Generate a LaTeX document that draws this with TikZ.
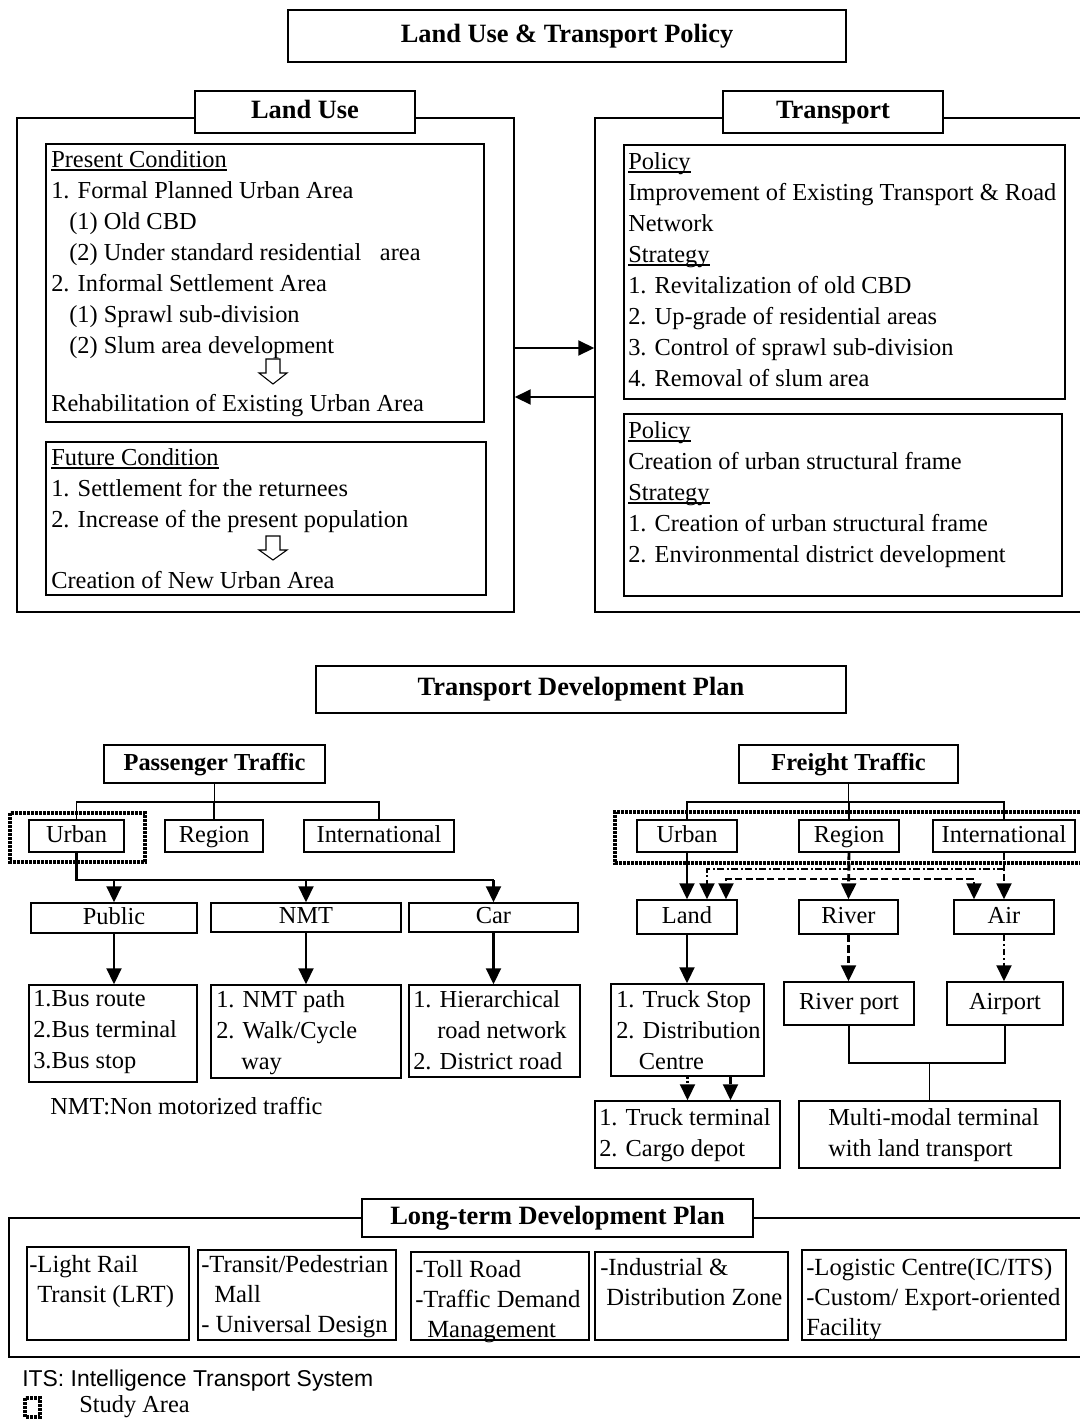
\documentclass[tikz,border=0pt]{standalone}
\usepackage{fontspec}
\setmainfont{Liberation Serif}
\newfontfamily\itsfont{Liberation Sans}
\usetikzlibrary{arrows.meta}
\newcommand\mainsz{\fontsize{18.3pt}{23.25pt}\selectfont}
\newcommand\ttlsz{\fontsize{19.8pt}{24pt}\selectfont\bfseries}
\newcommand\subttl{\fontsize{18.3pt}{23pt}\selectfont\bfseries}
\newcommand\ltsz{\fontsize{18.5pt}{22.5pt}\selectfont}
\newcommand\ulin[1]{\setbox0\hbox{#1}\rlap{\vrule height -1.6pt depth 2.5pt width \wd0}\box0}
% box node from pixel corners: name, x1, y1, x2, y2, options, text
\newcommand\bxnode[7]{\node[box,#6,minimum width={(#4-#2)*0.75pt},minimum height={(#5-#3)*0.75pt}] (#1) at ({(#2+#4)/2},{(#3+#5)/2}) {#7};}
\begin{document}
\begin{tikzpicture}[x=0.75pt,y=-0.75pt,
  font=\mainsz,
  box/.style={draw, line width=1pt, inner sep=0pt, fill=white, anchor=center, text height=0.9em, text depth=0em},
  tx/.style={anchor=north west, inner sep=0pt, align=left, font=\mainsz},
  ltx/.style={anchor=north west, inner sep=0pt, align=left, font=\ltsz},
  thin/.style={line width=1pt},
  thk/.style={line width=2.2pt},
  tip/.style={-{Triangle[width=11pt,length=12pt]}},
  studyarea/.style={line width=2.6pt, dash pattern=on 2pt off 1pt},
  dshline/.style={line width=2.2pt, dash pattern=on 5.5pt off 2.5pt},
  ddline/.style={line width=2.2pt, dash pattern=on 5pt off 2pt on 1.5pt off 2pt},
  dotline/.style={line width=2.2pt, dash pattern=on 1.5pt off 1.5pt},
  hollow/.style={line width=0.8pt, fill=white}
]
\useasboundingbox[fill=white] (0,0) rectangle (1080,1421);

% ---------- Top title ----------
\bxnode{ttl}{288}{10}{846}{62}{font=\ttlsz}{Land Use \& Transport Policy}

% ---------- Land Use ----------
\bxnode{luo}{17}{118}{514}{612}{}{}
\bxnode{lut}{195}{91}{415}{133}{font=\ttlsz}{Land Use}
\bxnode{pres}{46}{144}{484}{422}{}{}
\node[tx] (prestx) at (51,150) {\ulin{Present Condition}\\
1. Formal Planned Urban Area\\
\hspace*{13.5pt}(1) Old CBD\\
\hspace*{13.5pt}(2) Under standard residential\hspace{14pt}area\\
2. Informal Settlement Area\\
\hspace*{13.5pt}(1) Sprawl sub-division\\
\hspace*{13.5pt}(2) Slum area development};
\draw[hollow] (266,359) -- (280,359) -- (280,373) -- (287,373) -- (273,384) -- (259,373) -- (266,373) -- cycle;
\node[tx] (rehab) at (51,394) {Rehabilitation of Existing Urban Area};

\bxnode{fut}{46}{442}{486}{595}{}{}
\node[tx] (futtx) at (51,448) {\ulin{Future Condition}\\
1. Settlement for the returnees\\
2. Increase of the present population};
\draw[hollow] (266,536) -- (280,536) -- (280,550) -- (287,550) -- (273,560) -- (259,550) -- (266,550) -- cycle;
\node[tx] (newua) at (51,571) {Creation of New Urban Area};

% ---------- Transport ----------
\bxnode{tro}{595}{118}{1100}{612}{}{}
\bxnode{trt}{723}{91}{943}{133}{font=\ttlsz}{Transport}
\bxnode{pol1}{624}{145}{1065}{399}{}{}
\node[tx] (pol1tx) at (628,152) {\ulin{Policy}\\
Improvement of Existing Transport \& Road\\
Network\\
\ulin{Strategy}\\
1. Revitalization of old CBD\\
2. Up-grade of residential areas\\
3. Control of sprawl sub-division\\
4. Removal of slum area};
\bxnode{pol2}{624}{414}{1062}{596}{}{}
\node[tx] (pol2tx) at (628,421) {\ulin{Policy}\\
Creation of urban structural frame\\
\ulin{Strategy}\\
1. Creation of urban structural frame\\
2. Environmental district development};

% arrows between land use and transport
\draw[thk, tip] ([yshift=12.75pt]luo.east) -- ([yshift=12.75pt]tro.west);
\draw[thk, tip] ([yshift=-24pt]tro.west) -- ([yshift=-24pt]luo.east);

% ---------- Transport Development Plan ----------
\bxnode{tdp}{316}{666}{846}{713}{font=\ttlsz}{Transport Development Plan}

% Passenger
\bxnode{pt}{104}{745}{325}{783}{font=\subttl}{Passenger Traffic}
\bxnode{pu}{29}{820}{124}{852}{}{Urban}
\bxnode{pr}{165}{820}{263}{852}{}{Region}
\bxnode{pi}{304}{820}{454}{852}{}{International}
\coordinate (pbar) at (0,802);
\draw[thin] (pt.south) -- (pt.south |- pbar);
\draw[thin] (pu.north) |- (pi.north |- pbar) -- (pi.north);
\draw[thin] (pr.north) -- (pr.north |- pbar);
\draw[studyarea] (10,813) rectangle (145,862);

\bxnode{pub}{31}{903}{197}{933}{}{Public}
\bxnode{nmt}{211}{903}{401}{932}{}{NMT}
\bxnode{car}{409}{903}{578}{932}{}{Car}
\coordinate (tb) at (0,880);
\draw[thk] (pu.south) -- (pu.south |- tb) -- (car.north |- tb);
\draw[thk, tip] (pub.north |- tb) -- (pub.north);
\draw[thk, tip] (nmt.north |- tb) -- (nmt.north);
\draw[thk, tip] (car.north |- tb) -- (car.north);

\bxnode{bus}{29}{985}{197}{1082}{}{}
\bxnode{nmtb}{211}{985}{401}{1078}{}{}
\bxnode{carb}{409}{985}{580}{1077}{}{}
\draw[thk, tip] (pub.south) -- (pub.south |- bus.north);
\draw[thk, tip] (nmt.south) -- (nmt.south |- nmtb.north);
\draw[thk, tip] (car.south) -- (car.south |- carb.north);
\node[tx] (bustx) at (33,990) {1.Bus route\\2.Bus terminal\\3.Bus stop};
\node[tx] (nmttx) at (216,990) {1. NMT path\\2. Walk/Cycle\\\hspace*{18.75pt}way};
\node[tx] (cartx) at (413,990) {1. Hierarchical\\\hspace*{18pt}road network\\2. District road};
\node[tx] (nmtnote) at (50,1097) {NMT:Non motorized traffic};

% Freight
\bxnode{ft}{739}{745}{958}{783}{font=\subttl}{Freight Traffic}
\bxnode{fu}{637}{820}{737}{852}{}{Urban}
\bxnode{fr}{799}{820}{899}{852}{}{Region}
\bxnode{fi}{933}{820}{1075}{852}{}{International}
\coordinate (fbar) at (0,802);
\draw[thin] (ft.south) -- (ft.south |- fbar);
\draw[thin] (fu.north) |- (fi.north |- fbar) -- (fi.north);
\draw[thin] (fr.north) -- (fr.north |- fbar);
\draw[studyarea] (1100,812) -- (615,812) -- (615,863) -- (1100,863);

\bxnode{land}{637}{900}{737}{934}{}{Land}
\bxnode{river}{799}{900}{898}{934}{}{River}
\bxnode{air}{954}{900}{1054}{934}{}{Air}
\coordinate (landA) at ([xshift=15pt]land.north);
\coordinate (landB) at ([xshift=29.25pt]land.north);
\coordinate (airA) at ([xshift=-22.5pt]air.north);
\coordinate (dd) at (0,869);
\coordinate (dsh) at (0,879);
\draw[thk, tip] (fu.south) -- (land.north);
\draw[dshline, tip] (fr.south) -- (river.north);
\draw[dshline, tip] (fi.south) -- (air.north);
\draw[ddline, tip] (fi.south |- dd) -| (landA);
\draw[dshline, tip] (fr.south |- dsh) -| (landB);
\draw[dshline, tip] (fr.south |- dsh) -| (airA);

\bxnode{tstop}{611}{984}{764}{1076}{}{}
\bxnode{rport}{784}{982}{914}{1025}{}{River port}
\bxnode{aport}{947}{982}{1063}{1025}{}{Airport}
\draw[thk, tip] (land.south) -- (land.south |- tstop.north);
\draw[dshline, tip] (river.south) -- (river.south |- rport.north);
\draw[ddline, tip] (air.south) -- (air.south |- aport.north);
\node[tx] (tstoptx) at (616,990) {1. Truck Stop\\2. Distribution\\\hspace*{17pt}Centre};

\bxnode{tterm}{595}{1101}{780}{1168}{}{}
\bxnode{multi}{799}{1101}{1060}{1168}{}{}
\node[tx] (ttermtx) at (599,1108) {1. Truck terminal\\2. Cargo depot};
\node[tx] (multitx) at (828,1108) {Multi-modal terminal\\with land transport};
\coordinate (tsB) at ([xshift=32.25pt]tstop.south);
\draw[dotline, tip] (tstop.south) -- (tstop.south |- tterm.north);
\draw[dshline, tip] (tsB) -- (tsB |- tterm.north);
\coordinate (mm) at (0,1063);
\draw[thin] (rport.south) |- (aport.south |- mm) -- (aport.south);
\draw[thin] (multi.north) -- (multi.north |- mm);

% ---------- Long-term ----------
\bxnode{lto}{9}{1218}{1100}{1357}{}{}
\bxnode{ltt}{362}{1199}{753}{1237}{font=\ttlsz}{Long-term Development Plan}
\bxnode{b1}{27}{1247}{189}{1340}{}{}
\bxnode{b2}{198}{1250}{396}{1340}{}{}
\bxnode{b3}{411}{1252}{589}{1340}{}{}
\bxnode{b4}{595}{1252}{788}{1340}{}{}
\bxnode{b5}{802}{1250}{1066}{1340}{}{}
\node[ltx] (b1tx) at (29,1255) {-Light Rail\\\hspace*{6pt}Transit (LRT)};
\node[ltx] (b2tx) at (201,1255) {-Transit/Pedestrian\\\hspace*{9.75pt}Mall\\- Universal Design};
\node[ltx] (b3tx) at (415,1260) {-Toll Road\\-Traffic Demand\\\hspace*{9pt}Management};
\node[ltx] (b4tx) at (600,1258) {-Industrial \&\\\hspace*{4.5pt}Distribution Zone};
\node[ltx] (b5tx) at (806,1258) {-Logistic Centre(IC/ITS)\\-Custom/ Export-oriented\\Facility};

% ---------- Legend ----------
\node[anchor=west, inner sep=0pt, font=\itsfont\fontsize{17.2pt}{20pt}\selectfont] (its) at (22,1381) {ITS: Intelligence Transport System};
\draw[studyarea] (25,1398) rectangle (40,1417);
\node[anchor=west, inner sep=0pt] (sa) at (79,1407) {Study Area};
\end{tikzpicture}
\end{document}
